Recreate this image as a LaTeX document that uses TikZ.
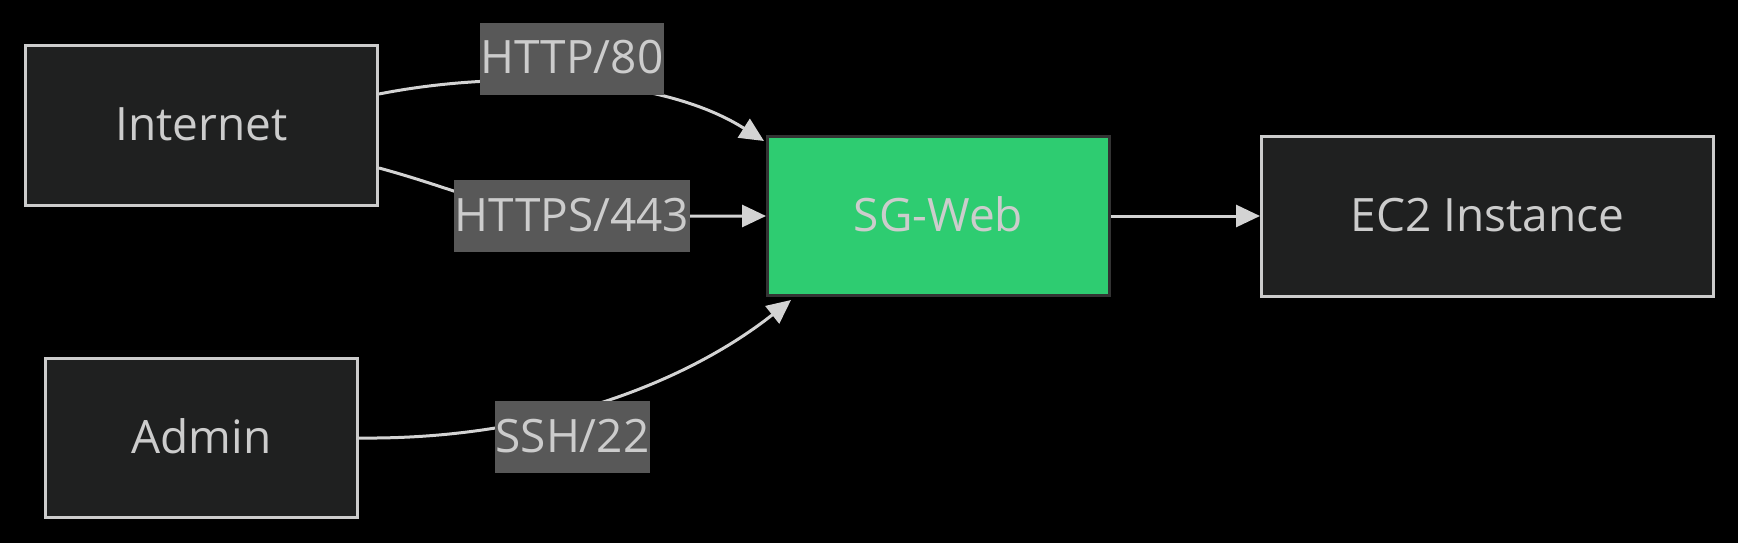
\documentclass[tikz,border=0pt]{standalone}
\usepackage{fontspec}
\setmainfont{Open Sans}
\usetikzlibrary{arrows.meta}
\definecolor{nodefill}{HTML}{1F2020}
\definecolor{nodeline}{HTML}{CCCCCC}
\definecolor{txt}{HTML}{CCCCCC}
\definecolor{edgecol}{HTML}{D3D3D3}
\definecolor{lblbg}{HTML}{585858}
\definecolor{sgfill}{HTML}{2ECC71}
\definecolor{sgline}{HTML}{333333}
\pgfdeclarelayer{bg}
\pgfdeclarelayer{edges}
\pgfsetlayers{bg,edges,main}
\begin{document}
\begin{tikzpicture}[x=1pt,y=-1pt,
  box/.style={draw=nodeline, fill=nodefill, line width=3pt, text=txt,
    font=\fontsize{46}{55}\selectfont, text height=33pt, text depth=3pt, inner sep=0pt},
  lbl/.style={fill=lblbg, text=txt, font=\fontsize{46}{55}\selectfont,
    minimum height=72pt, inner xsep=1pt, inner ysep=0pt, text height=33pt, text depth=3pt},
  conn/.style={draw=edgecol, line width=3pt, -{Triangle[length=24pt,width=22pt]}}]
\begin{pgfonlayer}{bg}
\fill[black] (0,0) rectangle (1738,543);
\end{pgfonlayer}
\useasboundingbox (0,0) rectangle (1738,543);
% boxes
\node[box, minimum width=352pt, minimum height=160pt] (inet) at (201.5,125.5) {Internet};
\node[box, minimum width=312pt, minimum height=159pt] (admin) at (201.5,438) {Admin};
\node[box, draw=sgline, fill=sgfill, minimum width=342pt, minimum height=159pt] (sg) at (938.5,216) {SG-Web};
\node[box, minimum width=452pt, minimum height=160pt] (ec2) at (1487.5,216) {EC2 Instance};
% labels
\node[lbl] (h80) at (572,59) {HTTP/80};
\node[lbl] (h443) at (572,216) {HTTPS/443};
\node[lbl] (ssh) at (572.5,437) {SSH/22};
% edges
\begin{pgfonlayer}{edges}
\draw[conn] ([yshift=31.5pt]inet.east) .. controls (500,70) and (660,75) .. ([xshift=-2pt,yshift=-6pt]sg.north west);
\draw[conn] ([yshift=-42.5pt]inet.east) .. controls (460,190) and (510,216) .. (h443.center) -- (sg.west);
\draw[conn] (admin.east) .. controls (545,440) and (690,380) .. ([xshift=25pt,yshift=-3pt]sg.south west);
\draw[conn] (sg.east) -- (ec2.west);
\end{pgfonlayer}
\end{tikzpicture}
\end{document}
